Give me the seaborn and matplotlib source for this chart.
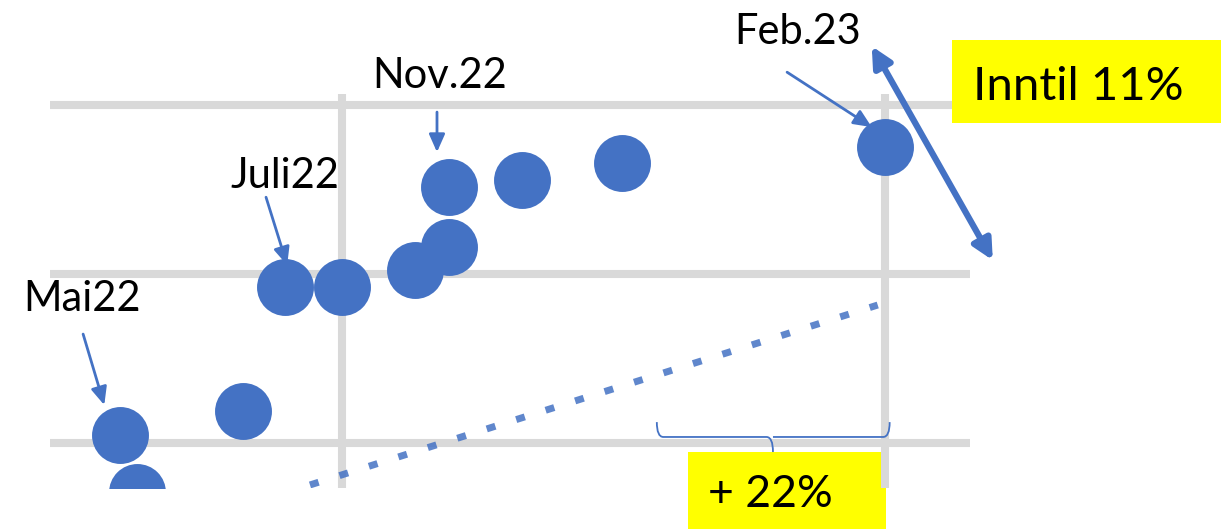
import matplotlib
matplotlib.use("Agg")
import matplotlib.pyplot as plt
import seaborn as sns
import pandas as pd
from matplotlib.path import Path
from matplotlib.patches import PathPatch, Rectangle

# ---- data (arbitrary units) ----
point_x = [0.591, 0.622, 0.818, 0.895, 1.000, 1.134, 1.197, 1.197, 1.331, 1.516, 2.000]
point_y = [1.046, 0.708, 1.188, 1.921, 1.921, 2.022, 2.158, 2.513, 2.554, 2.655, 2.750]
trend_x = [0.941, 1.987]
trend_y = [0.750, 1.815]
grid_x = [1, 2]
grid_y = [1, 2, 3]

labels = ["Mai22", "Juli22", "Nov.22", "Feb.23"]
label_pos = [(0.521, 1.779), (0.895, 2.507), (1.180, 3.098), (1.840, 3.358)]
arrow_from = [(0.523, 1.643), (0.860, 2.453), (1.175, 2.957), (1.820, 3.193)]
arrow_to = [(0.562, 1.223), (0.899, 2.051), (1.175, 2.720), (1.976, 2.868)]

BLUE = "#4472C4"
GRID = "#D9D9D9"

sns.set_theme(style="white")
plt.rcParams["font.family"] = ["Lato", "DejaVu Sans"]

W, H = 1223, 529
fig = plt.figure(figsize=(W / 100, H / 100), dpi=100)
ax = fig.add_axes([50 / W, 1 - 488 / H, 920 / W, 394 / H])

df = pd.DataFrame({"x": point_x, "y": point_y})
sns.scatterplot(data=df, x="x", y="y", ax=ax, s=1680, color=BLUE,
                linewidth=0, zorder=3)
sns.lineplot(x=trend_x, y=trend_y, ax=ax, color=BLUE, alpha=0.85, lw=5,
             linestyle=(0, (1.3, 3.15)), zorder=2)

ax.set_xlim(0.462, 2.157)
ax.set_ylim(0.732, 3.064)
ax.set_xticks(grid_x)
ax.set_yticks(grid_y)
ax.set_xticklabels([])
ax.set_yticklabels([])
ax.tick_params(length=0)
ax.set_xlabel("")
ax.set_ylabel("")
ax.set_axisbelow(True)
ax.grid(True, color=GRID, lw=5.8)
for s in ax.spines.values():
    s.set_visible(False)
ax.patch.set_alpha(0)

# labels and arrows
for lab, (tx, ty), (ax0, ay0), (ax1, ay1) in zip(labels, label_pos, arrow_from, arrow_to):
    ax.text(tx, ty, lab, ha="center", va="baseline", fontsize=30,
            color="black", clip_on=False)
    ax.annotate("", xy=(ax1, ay1), xytext=(ax0, ay0),
                arrowprops=dict(arrowstyle="-|>,head_length=0.9,head_width=0.4",
                                color=BLUE, lw=2, shrinkA=0, shrinkB=0),
                annotation_clip=False)

# double arrow
ax.annotate("", xy=(2.199, 2.080), xytext=(1.976, 3.347),
            arrowprops=dict(arrowstyle="<|-|>,head_length=1.0,head_width=0.5",
                            color=BLUE, lw=4.5, shrinkA=0, shrinkB=0),
            annotation_clip=False)

# brace
x0, xm, x1 = 1.580, 1.794, 2.009
yt, ymid, yb = 1.122, 1.034, 0.945
verts = [(x0, yt), (x0, ymid), (x0 + 0.012, ymid),
         (xm - 0.012, ymid), (xm, ymid), (xm, yb),
         (xm, ymid), (xm + 0.012, ymid),
         (x1 - 0.012, ymid), (x1, ymid), (x1, yt)]
codes = [Path.MOVETO, Path.CURVE3, Path.CURVE3,
         Path.LINETO, Path.CURVE3, Path.CURVE3,
         Path.MOVETO, Path.LINETO,
         Path.LINETO, Path.CURVE3, Path.CURVE3]
ax.add_patch(PathPatch(Path(verts, codes), fill=False, edgecolor=BLUE,
                       lw=1.3, clip_on=False, zorder=2))

# yellow boxes
ax.add_patch(Rectangle((688 / W, 0), 198 / W, 77 / H, transform=fig.transFigure,
                       facecolor="#FFFF00", edgecolor="none", clip_on=False, zorder=0.2))
fig.text(708 / W, 1 - 507 / H, "+ 22%", fontsize=32, color="black",
         ha="left", va="baseline")
fig.patches.append(Rectangle((952 / W, 1 - 123 / H), 269 / W, 83 / H,
                             transform=fig.transFigure, facecolor="#FFFF00",
                             edgecolor="none", zorder=0))
fig.text(973 / W, 1 - 100 / H, "Inntil 11%", fontsize=34, color="black",
         ha="left", va="baseline")

fig.savefig("out.png", dpi=100, facecolor="white")
